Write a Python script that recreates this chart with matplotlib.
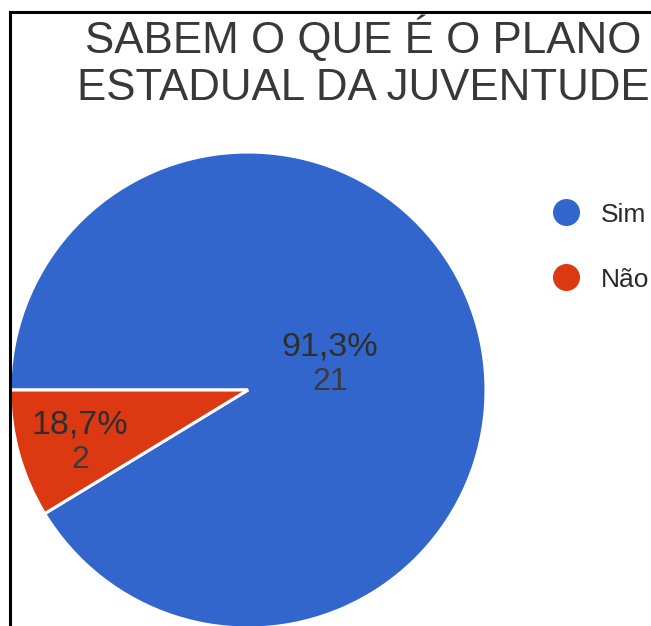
import matplotlib
matplotlib.use("Agg")
import matplotlib.pyplot as plt

# data
title_lines = ["SABEM O QUE É O PLANO", "ESTADUAL DA JUVENTUDE"]
categories = ["Sim", "Não"]
counts = [21, 2]
pct_labels = ["91,3%", "18,7%"]
colors = ["#3366cc", "#dc3912"]

plt.rcParams["font.family"] = ["Liberation Sans", "DejaVu Sans"]

W, H = 651, 626
fig = plt.figure(figsize=(W / 100, H / 100), dpi=100)
ax = fig.add_axes([0, 0, 1, 1])

# pie (pixel units, y up)
cx, cy, r = 248, H - 390, 238
total = sum(counts)
start = 180 - 360 * sum(counts[:-1]) / total
ax.pie(counts, colors=colors, startangle=start, center=(cx, cy), radius=r,
       frame=True, wedgeprops=dict(edgecolor="white", linewidth=2.2))

# slice labels (x, baseline of pct, baseline of count)
label_pos = [(330, H - 355, H - 390), (80, H - 434, H - 468)]
for (x, y1, y2), p, c in zip(label_pos, pct_labels, counts):
    ax.text(x, y1, p, ha="center", va="baseline", fontsize=24.5,
            color="#2e2e2e")
    ax.text(x, y2, str(c), ha="center", va="baseline", fontsize=23,
            color="#3a3a3a", fontweight="light")

# legend
for i, (cat, col) in enumerate(zip(categories, colors)):
    y = H - 212 - i * 65
    ax.scatter([566], [y], s=340, color=col, zorder=5, clip_on=False)
    ax.text(601, y - 10, cat, ha="left", va="baseline", fontsize=19,
            color="#2a2a2a")

# title
for i, line in enumerate(title_lines):
    ax.text(363, H - 53 - i * 47, line, ha="center", va="baseline",
            fontsize=31.6, color="#383838")

# frame lines
ax.plot([10, 10], [0, H - 12], color="black", linewidth=2.2)
ax.plot([10, W], [H - 12, H - 12], color="black", linewidth=2.2)

ax.set_xlim(0, W)
ax.set_ylim(0, H)
ax.set_aspect("auto")
ax.axis("off")

fig.savefig("out.png", dpi=100)
